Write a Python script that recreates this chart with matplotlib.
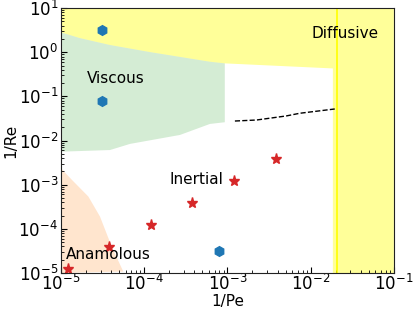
import numpy as np
import matplotlib
matplotlib.use("Agg")
import matplotlib.pyplot as plt

# Data
star_x = [1.2e-5, 3.8e-5, 1.2e-4, 3.8e-4, 1.2e-3, 3.8e-3]
star_y = [1.24e-5, 3.85e-5, 1.2e-4, 3.8e-4, 1.2e-3, 3.8e-3]
hex_x = [3.1e-5, 3.1e-5, 7.9e-4]
hex_y = [3.2, 0.08, 3.2e-5]

# Diffusive (top) boundary
diff_bx = [1e-5, 1.69e-5, 3.88e-5, 1.17e-4, 6.17e-4, 9.3e-4, 1.85e-2]
diff_by = [2.82, 2.09, 1.46, 1.01, 0.61, 0.56, 0.43]
diff_vline = 0.0205

# Viscous (green) lower boundary
visc_x = [1e-5, 3.88e-5, 6.75e-5, 2.69e-4, 6.17e-4, 9.3e-4]
visc_y = [5.6e-3, 6.1e-3, 8.4e-3, 1.34e-2, 2.38e-2, 2.6e-2]

# Anomalous (orange) boundary
anom_x = [1e-5, 1.35e-5, 2.13e-5, 2.94e-5, 4.06e-5, 5.6e-5]
anom_y = [2.36e-3, 1.29e-3, 5.4e-4, 1.9e-4, 4.0e-5, 1.08e-5]

# Dashed line
dash_x = [1.23e-3, 2.24e-3, 5.1e-3, 7.4e-3, 1.95e-2]
dash_y = [0.0277, 0.0292, 0.0361, 0.0415, 0.0519]

fig = plt.figure(figsize=(4.15, 3.12), dpi=100)
ax = fig.add_axes([0.147, 0.125, 0.802, 0.849])
ax.set_xscale('log')
ax.set_yscale('log')
ax.set_xlim(1e-5, 1e-1)
ax.set_ylim(1e-5, 1e1)

# yellow diffusive region (top band + right band)
px = list(diff_bx) + [diff_bx[-1], 1e-1, 1e-1, 1e-5]
py = list(diff_by) + [1e-5, 1e-5, 1e1, 1e1]
ax.fill(px, py, color='yellow', alpha=0.4, lw=0)
ax.axvline(diff_vline, color='yellow', lw=1.2)

# green viscous region
gx = list(diff_bx[:6]) + list(visc_x[::-1])
gy = list(diff_by[:6]) + list(visc_y[::-1])
ax.fill(gx, gy, color='tab:green', alpha=0.2, lw=0)

# orange anomalous region
ox = list(anom_x) + [1e-5]
oy = list(anom_y) + [1e-5]
ax.fill(ox, oy, color='tab:orange', alpha=0.2, lw=0)

ax.plot(dash_x, dash_y, 'k--', lw=1.0)

ax.plot(star_x, star_y, '*', color='tab:red', ms=8, ls='none', clip_on=False)
ax.plot(hex_x, hex_y, 'h', color='tab:blue', ms=7, ls='none')

fs = 11
ax.text(4.5e-5, 0.26, 'Viscous', fontsize=fs, ha='center', va='center')
ax.text(2.62e-2, 2.7, 'Diffusive', fontsize=fs, ha='center', va='center')
ax.text(4.2e-4, 1.29e-3, 'Inertial', fontsize=fs, ha='center', va='center')
ax.text(3.67e-5, 2.58e-5, 'Anamolous', fontsize=fs, ha='center', va='center')

ax.set_xlabel('1/Pe', fontsize=fs, labelpad=0)
ax.set_ylabel('1/Re', fontsize=fs, labelpad=0)
ax.tick_params(which='both', direction='in', labelsize=12)
ax.tick_params(which='major', length=4)
ax.tick_params(which='minor', length=2)
ax.tick_params(axis='x', which='both', pad=1)
ax.tick_params(axis='y', which='both', pad=2)
for s in ax.spines.values():
    s.set_color('#222222')

fig.savefig('out.png', dpi=100)
